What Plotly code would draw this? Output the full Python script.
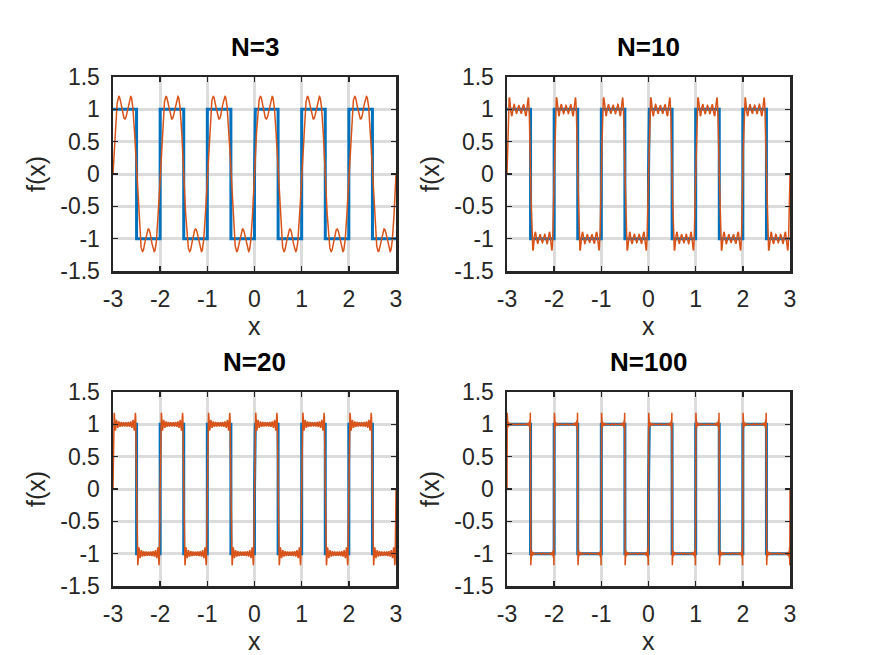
import numpy as np
import plotly.graph_objects as go

# ---- data ----
titles = ["N=3", "N=10", "N=20", "N=100"]
n_terms = [3, 10, 20, 100]
x_range = [-3, 3]
y_range = [-1.5, 1.5]
x_ticks = [-3, -2, -1, 0, 1, 2, 3]
x_ticklabels = ["-3", "-2", "-1", "0", "1", "2", "3"]
y_ticks = [-1.5, -1, -0.5, 0, 0.5, 1, 1.5]
y_ticklabels = ["-1.5", "-1", "-0.5", "0", "0.5", "1", "1.5"]
n_samples = 6001

x = np.linspace(x_range[0], x_range[1], n_samples)
square = np.sign(np.sin(2 * np.pi * x))


def partial_sum(N):
    s = np.zeros_like(x)
    for n in range(1, N + 1, 2):
        s += 4 / np.pi * np.sin(2 * np.pi * n * x) / n
    return s


W, H = 873, 655
# axes boxes in window pixels: (left, right, top, bottom)
boxes = [(113, 396, 77, 271), (507, 790, 77, 271),
         (113, 396, 392, 586), (507, 790, 392, 586)]

BLUE = "#0072BD"
ORANGE = "#D95319"
AXC = "#262626"
GRID = "#dcdcdc"
FONT = "Liberation Sans, Arial, Helvetica, sans-serif"


def px(v):
    return v / W


def py(v):
    return (H - v) / H


fig = go.Figure()
annotations = []
for i, (t, N, b) in enumerate(zip(titles, n_terms, boxes)):
    k = "" if i == 0 else str(i + 1)
    l, r, tp, bt = b
    xd = [px(l), px(r)]
    yd = [py(bt), py(tp)]
    fig.add_trace(go.Scatter(x=x, y=square, mode="lines",
                             line=dict(color=BLUE, width=3),
                             xaxis="x" + k, yaxis="y" + k, showlegend=False,
                             hoverinfo="skip"))
    fig.add_trace(go.Scatter(x=x, y=partial_sum(N), mode="lines",
                             line=dict(color=ORANGE, width=1.5),
                             xaxis="x" + k, yaxis="y" + k, showlegend=False,
                             hoverinfo="skip"))
    common = dict(showline=True, linecolor=AXC, linewidth=2.5, mirror="ticks",
                  ticks="inside", ticklen=5, tickwidth=1.5, tickcolor=AXC,
                  showgrid=True, gridcolor=GRID, gridwidth=3, zeroline=False,
                  tickfont=dict(family=FONT, size=23, color=AXC),
                  automargin=False, fixedrange=True)
    fig.update_layout(**{
        "xaxis" + k: dict(domain=xd, range=x_range, tickmode="array",
                          tickvals=x_ticks, ticktext=x_ticklabels,
                          anchor="y" + k, ticklabelstandoff=6, **common),
        "yaxis" + k: dict(domain=yd, range=y_range, tickmode="array",
                          tickvals=y_ticks, ticktext=y_ticklabels,
                          anchor="x" + k, ticklabelstandoff=6, **common),
    })
    cx = px((l + r) / 2)
    annotations.append(dict(text="<b>%s</b>" % t, x=cx, y=py(tp - 30),
                            xref="paper", yref="paper", showarrow=False,
                            xanchor="center", yanchor="middle",
                            font=dict(family=FONT, size=26, color="black")))
    annotations.append(dict(text="x", x=cx, y=py(bt + 55),
                            xref="paper", yref="paper", showarrow=False,
                            xanchor="center", yanchor="middle",
                            font=dict(family=FONT, size=25, color=AXC)))
    annotations.append(dict(text="f(x)", x=px(l - 77), y=py((tp + bt) / 2),
                            xref="paper", yref="paper", showarrow=False,
                            textangle=-90, xanchor="center", yanchor="middle",
                            font=dict(family=FONT, size=25, color=AXC)))

fig.update_layout(width=W, height=H, margin=dict(l=0, r=0, t=0, b=0),
                  paper_bgcolor="white", plot_bgcolor="white",
                  annotations=annotations, showlegend=False)
fig.write_html("out.html",
               config={"displayModeBar": False, "staticPlot": True},
               post_script="document.body.style.margin='0';"
                           "document.body.style.overflow='hidden';")
